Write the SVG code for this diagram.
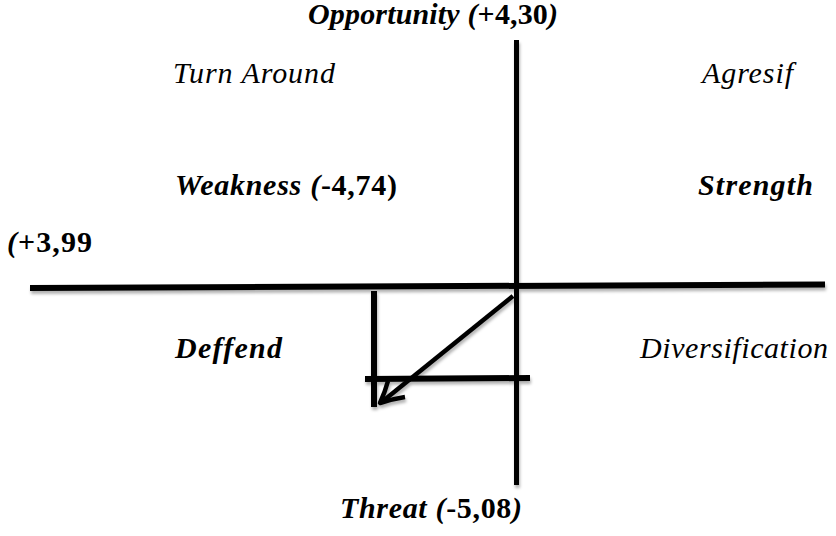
<svg xmlns="http://www.w3.org/2000/svg" width="836" height="536" viewBox="0 0 836 536">
<defs>
<style>
text{font-size:30px;fill:#000}
.i{font-style:italic}
.b{font-weight:bold}
.ln{stroke:#000;fill:none;stroke-linecap:butt}
</style>
<filter id="sh" x="-10%" y="-10%" width="120%" height="130%">
<feDropShadow dx="1" dy="3" stdDeviation="1.5" flood-color="#000" flood-opacity="0.3"/>
</filter>
</defs>
<rect width="836" height="536" fill="#fff"/>
<g id="connectors" filter="url(#sh)">
<line class="ln" x1="30" y1="288" x2="825" y2="284.5" stroke-width="6"/>
<line class="ln" x1="516.5" y1="40" x2="516.5" y2="485" stroke-width="5"/>
<line class="ln" x1="374" y1="291" x2="374" y2="407" stroke-width="6"/>
<line class="ln" x1="365" y1="379" x2="530" y2="378" stroke-width="6"/>
<line class="ln" x1="513" y1="296" x2="383" y2="401" stroke-width="4.5"/>
<path class="ln" d="M388,381 Q385,392 380,403 Q392,399 405,397" stroke-width="4.5" stroke-linejoin="round"/>
</g>
<g font-family="Liberation Serif, Times New Roman, serif">
<g id="opportunity"><text x="308" y="24" textLength="250" lengthAdjust="spacing"><tspan class="b i">Opportunity (</tspan><tspan class="b">+4,30</tspan><tspan class="b i">)</tspan></text></g>
<g id="turn-around"><text class="i" x="173" y="83" textLength="162" lengthAdjust="spacing">Turn Around</text></g>
<g id="agresif"><text class="i" x="702" y="83" textLength="91" lengthAdjust="spacing">Agresif</text></g>
<g id="weakness"><text x="175" y="195" textLength="222" lengthAdjust="spacing"><tspan class="b i">Weakness (</tspan><tspan class="b">-4,74)</tspan></text></g>
<g id="strength"><text class="b i" x="698" y="195" textLength="115" lengthAdjust="spacing">Strength</text></g>
<g id="strength-value"><text x="7" y="252" textLength="85" lengthAdjust="spacing"><tspan class="b i">(</tspan><tspan class="b">+3,99</tspan></text></g>
<g id="deffend"><text class="b i" x="175" y="358" textLength="107" lengthAdjust="spacing">Deffend</text></g>
<g id="diversification"><text class="i" x="640" y="358" textLength="188" lengthAdjust="spacing">Diversification</text></g>
<g id="threat"><text x="340" y="518" textLength="182" lengthAdjust="spacing"><tspan class="b i">Threat (</tspan><tspan class="b">-5,08</tspan><tspan class="b i">)</tspan></text></g>
</g>
</svg>
